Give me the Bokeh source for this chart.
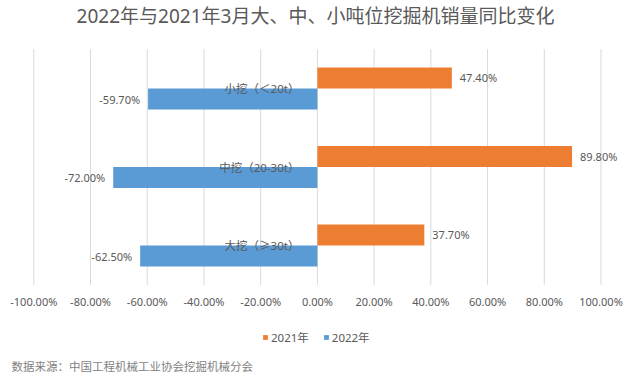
import numpy as np
from bokeh.plotting import figure
from bokeh.models import ColumnDataSource, Range1d, Label, Legend, LegendItem
from bokeh.transform import dodge
from bokeh.core.properties import value
from bokeh.embed import file_html
from bokeh.resources import INLINE

# ---- data ----
categories = ["小挖（＜20t）", "中挖（20-30t）", "大挖（≥30t）"]
values_2021 = [47.4, 89.8, 37.7]
values_2022 = [-59.7, -72.0, -62.5]
series_names = ["2021年", "2022年"]
tick_values = [-100, -80, -60, -40, -20, 0, 20, 40, 60, 80, 100]
tick_labels = ["-100.00%", "-80.00%", "-60.00%", "-40.00%", "-20.00%", "0.00%",
               "20.00%", "40.00%", "60.00%", "80.00%", "100.00%"]
title_text = "2022年与2021年3月大、中、小吨位挖掘机销量同比变化"
source_text = "数据来源：中国工程机械工业协会挖掘机械分会"

ORANGE = "#ED7D31"
BLUE = "#5B9BD5"
GRAY = "#595959"
FONT = "Noto Sans, Noto Sans CJK SC"

W, H = 635, 379
n = len(categories)
idx = np.arange(n)

src = ColumnDataSource(dict(
    idx=idx,
    cat=categories,
    v2021=values_2021,
    v2022=values_2022,
    lab2021=["%.2f%%" % v for v in values_2021],
    lab2022=["%.2f%%" % v for v in values_2022],
))

# plot-area geometry (pixels) -> ranges
left_px, right_px = 33.3, 600.5          # -100 and +100
top_px, band_px = 48.75, 78.5            # top of first category band, band height
k = (right_px - left_px) / 200.0
x_range = Range1d(-100 - left_px / k, -100 + (W - left_px) / k)
y_range = Range1d(-0.5 + (H - top_px) / band_px, -0.5 - top_px / band_px)  # flipped

p = figure(width=W, height=H, output_backend="svg", toolbar_location=None,
           x_range=x_range, y_range=y_range, min_border=0)
p.outline_line_color = None
p.background_fill_color = "white"
p.border_fill_color = "white"
p.xaxis.visible = False
p.yaxis.visible = False
p.xgrid.grid_line_color = None
p.ygrid.grid_line_color = None

# gridlines at tick values across the category bands
p.segment(x0=tick_values, x1=tick_values, y0=-0.5, y1=n - 0.5,
          line_color="#D9D9D9", line_width=1)

off = 0.134
h = 0.268
r21 = p.hbar(y=dodge("idx", -off), left=0, right="v2021", height=h,
             source=src, fill_color=ORANGE, line_color=None)
r22 = p.hbar(y=dodge("idx", off), left=0, right="v2022", height=h,
             source=src, fill_color=BLUE, line_color=None)

p.text(x="v2021", y=dodge("idx", -off), text="lab2021", source=src,
       x_offset=8, text_align="left", text_baseline="middle",
       text_font=value(FONT), text_font_size="11px", text_color=GRAY)
p.text(x="v2022", y=dodge("idx", off), text="lab2022", source=src,
       x_offset=-8, text_align="right", text_baseline="middle",
       text_font=value(FONT), text_font_size="11px", text_color=GRAY)
p.text(x=0, y="idx", text="cat", source=src, x_offset=-18, text_align="right",
       text_baseline="middle", text_font=value(FONT), text_font_size="11.5px",
       text_color=GRAY)

# x tick labels
p.text(x=tick_values, y=[n - 0.5] * len(tick_values), text=tick_labels, y_offset=17,
       text_align="center", text_baseline="middle", text_font=value(FONT),
       text_font_size="11px", text_color=GRAY)

# title and source
p.add_layout(Label(x=315, y=H - 15, x_units="screen", y_units="screen", text=title_text,
                   text_align="center", text_baseline="middle", text_font=FONT,
                   text_font_size="19px", text_color=GRAY))
p.add_layout(Label(x=11, y=H - 366, x_units="screen", y_units="screen", text=source_text,
                   text_align="left", text_baseline="middle", text_font=FONT,
                   text_font_size="11.5px", text_color="#7F7F7F"))

legend = Legend(items=[LegendItem(label=series_names[0], renderers=[r21]),
                       LegendItem(label=series_names[1], renderers=[r22])],
                location=(262, H - 345), orientation="horizontal",
                glyph_width=6, glyph_height=6, label_height=14, label_standoff=3,
                spacing=14, padding=0, margin=0, border_line_color=None,
                background_fill_alpha=0,
                label_text_font=FONT, label_text_font_size="11.5px",
                label_text_color=GRAY)
p.add_layout(legend, "center")

open("out.html", "w").write(file_html(p, INLINE))
